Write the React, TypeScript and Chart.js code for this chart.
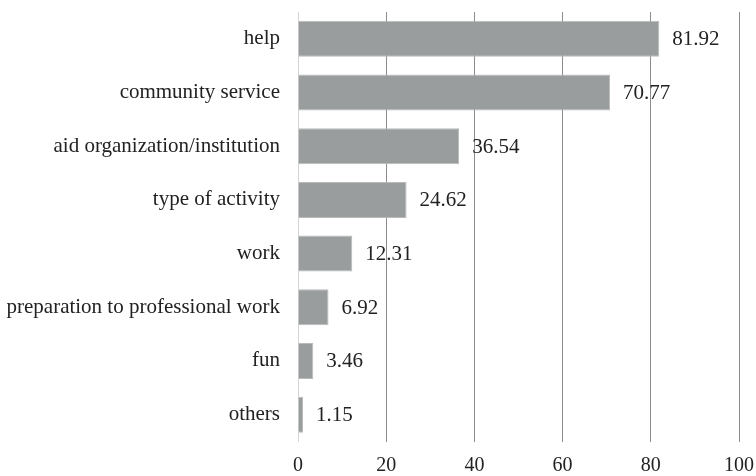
import React, { useEffect, useRef } from "react";
import { Chart, registerables } from "chart.js";

Chart.register(...registerables);

const categories = [
  "help",
  "community service",
  "aid organization/institution",
  "type of activity",
  "work",
  "preparation to professional work",
  "fun",
  "others",
];
const values = [81.92, 70.77, 36.54, 24.62, 12.31, 6.92, 3.46, 1.15];
const xTicks = [0, 20, 40, 60, 80, 100];

const FONT = "'Liberation Serif', 'Times New Roman', serif";

const valueLabels = {
  id: "valueLabels",
  afterDatasetsDraw(chart: any) {
    const { ctx } = chart;
    const meta = chart.getDatasetMeta(0);
    ctx.save();
    ctx.font = `21px ${FONT}`;
    ctx.fillStyle = "#222";
    ctx.textBaseline = "middle";
    ctx.textAlign = "left";
    meta.data.forEach((bar: any, i: number) => {
      ctx.fillText(values[i].toFixed(2), bar.x + 13, bar.y + 1);
    });
    ctx.restore();
  },
};

export default function App() {
  const ref = useRef<HTMLCanvasElement | null>(null);
  useEffect(() => {
    const chart = new Chart(ref.current!, {
      type: "bar",
      data: {
        labels: categories,
        datasets: [
          {
            data: values,
            backgroundColor: "#9a9d9d",
            borderColor: "#b9bbbb",
            borderWidth: 1,
            barPercentage: 0.67,
            categoryPercentage: 1,
          },
        ],
      },
      options: {
        indexAxis: "y",
        animation: false,
        responsive: false,
        maintainAspectRatio: false,
        layout: { padding: { top: 12, right: 17, left: 0, bottom: 0 } },
        plugins: { legend: { display: false }, tooltip: { enabled: false } },
        scales: {
          x: {
            min: 0,
            max: 100,
            afterBuildTicks: (s: any) => {
              s.ticks = xTicks.map((v) => ({ value: v }));
            },
            afterFit: (s: any) => {
              s.height = 34.5;
              s.paddingLeft = 0;
              s.paddingRight = 0;
            },
            grid: {
              color: (c: any) => (c.tick && c.tick.value === 0 ? "#d4d4d4" : "#8c8c8c"),
              lineWidth: 1,
              drawTicks: false,
            },
            border: { display: false },
            ticks: {
              color: "#222",
              font: { family: FONT, size: 20 },
              padding: 12,
              maxRotation: 0,
            },
          },
          y: {
            afterFit: (s: any) => {
              s.width = 298;
              s.paddingTop = 0;
              s.paddingBottom = 0;
            },
            grid: { display: false, drawTicks: false },
            border: { display: true, color: "#d4d4d4" },
            ticks: {
              color: "#222",
              font: { family: FONT, size: 21 },
              padding: 18,
            },
          },
        },
      },
      plugins: [valueLabels],
    });
    return () => chart.destroy();
  }, []);
  return (
    <div style={{ position: "fixed", left: 0, top: 0, width: 756, height: 476, background: "#fff" }}>
      <canvas ref={ref} width={756} height={476} style={{ display: "block" }} />
    </div>
  );
}
